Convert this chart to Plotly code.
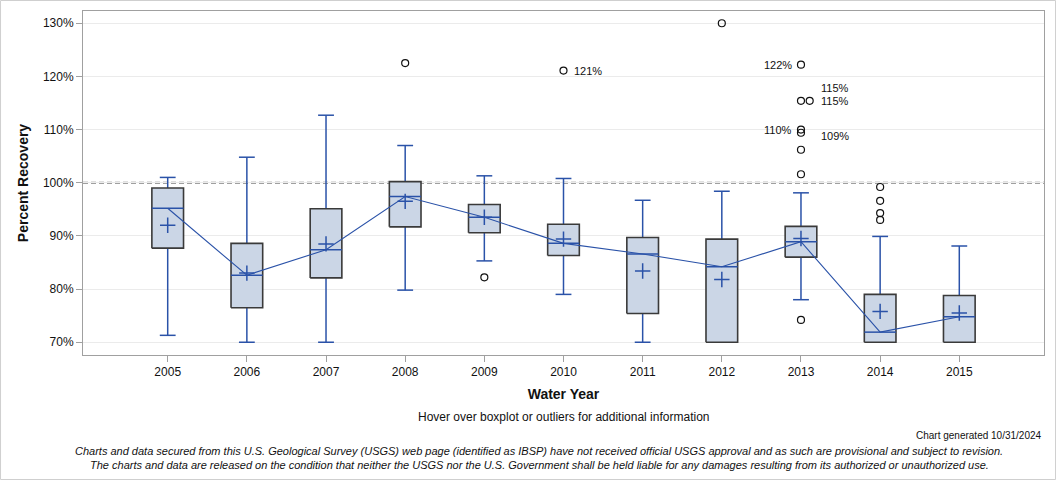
import plotly.graph_objects as go

years = [2005, 2006, 2007, 2008, 2009, 2010, 2011, 2012, 2013, 2014, 2015]
q1 = [87.7, 76.5, 82.1, 91.7, 90.6, 86.3, 75.4, 70.0, 86.0, 70.0, 70.0]
medians = [95.2, 82.6, 87.4, 97.4, 93.5, 88.6, 86.6, 84.2, 88.9, 71.9, 74.8]
q3 = [99.0, 88.6, 95.1, 100.2, 95.9, 92.2, 89.7, 89.4, 91.8, 79.0, 78.8]
whisker_low = [71.3, 70.0, 70.0, 79.8, 85.3, 79.0, 70.0, 70.0, 78.0, 70.0, 70.0]
whisker_high = [101.0, 104.8, 112.7, 107.0, 101.3, 100.8, 96.7, 98.4, 98.1, 89.9, 88.1]
means = [92.0, 83.0, 88.5, 96.5, 93.5, 89.4, 83.4, 81.8, 89.5, 75.8, 75.5]

outlier_years = [2008, 2009, 2010, 2012, 2013, 2013, 2013, 2013, 2013, 2013, 2013, 2013, 2014, 2014, 2014, 2014]
outlier_vals = [122.5, 82.2, 121.1, 130.0, 74.2, 101.6, 106.2, 109.4, 110.0, 115.4, 115.4, 122.2, 93.0, 94.3, 96.6, 99.2]

label_years = [2010, 2013, 2013, 2013, 2013, 2013]
label_vals = [121.1, 122.2, 110.0, 115.4, 115.4, 109.4]
label_texts = ["121%", "122%", "110%", "115%", "115%", "109%"]

ytick_vals = [70, 80, 90, 100, 110, 120, 130]
ytick_text = ["70%", "80%", "90%", "100%", "110%", "120%", "130%"]

BOX_FILL = "#cbd6e6"
BOX_LINE = "#3a3a3a"
BLUE = "#2a52a8"
FONT = "Liberation Sans, Arial, sans-serif"

idx = list(range(len(years)))
hw = 0.2   # half box width
cw = 0.1   # half cap width

fig = go.Figure()

# reference line at 100%
fig.add_shape(type="line", xref="paper", x0=0, x1=1, yref="y", y0=100, y1=100,
              line=dict(color="#808080", width=2, dash="5px,3px"), layer="between")

# outer image border
fig.add_shape(type="rect", xref="paper", yref="paper",
              x0=-0.0858, x1=1.012, y0=-0.362, y1=1.0305,
              line=dict(color="#cfcfcf", width=1), fillcolor="rgba(0,0,0,0)", layer="above")

# whiskers
for i in idx:
    xs = [i, i, None, i, i, None, i - cw, i + cw, None, i - cw, i + cw]
    ys = [q3[i], whisker_high[i], None, q1[i], whisker_low[i], None,
          whisker_high[i], whisker_high[i], None, whisker_low[i], whisker_low[i]]
    fig.add_trace(go.Scatter(x=xs, y=ys, mode="lines", line=dict(color=BLUE, width=1.5),
                             hoverinfo="skip", showlegend=False))

# boxes
for i in idx:
    fig.add_trace(go.Scatter(
        x=[i - hw, i + hw, i + hw, i - hw, i - hw],
        y=[q1[i], q1[i], q3[i], q3[i], q1[i]],
        mode="lines", fill="toself", fillcolor=BOX_FILL,
        line=dict(color=BOX_LINE, width=1.6), showlegend=False,
        hovertemplate=f"Water Year {years[i]}<br>Q1: {q1[i]}%<br>Median: {medians[i]}%<br>Q3: {q3[i]}%<extra></extra>"))
    fig.add_trace(go.Scatter(x=[i - hw, i + hw], y=[medians[i], medians[i]], mode="lines",
                             line=dict(color=BLUE, width=1.5), hoverinfo="skip", showlegend=False))

# median connecting line
fig.add_trace(go.Scatter(x=idx, y=medians, mode="lines", line=dict(color=BLUE, width=1.1),
                         hoverinfo="skip", showlegend=False))

# means
fig.add_trace(go.Scatter(x=idx, y=means, mode="markers",
                         marker=dict(symbol="cross-thin", size=11, line=dict(color=BLUE, width=1.5)),
                         hovertemplate="Mean: %{y}%<extra></extra>", showlegend=False))

# outliers (duplicates nudged sideways)
ox = []
seen = {}
for yr, v in zip(outlier_years, outlier_vals):
    k = (yr, v)
    n = seen.get(k, 0)
    seen[k] = n + 1
    ox.append(years.index(yr) + 0.11 * n)
fig.add_trace(go.Scatter(x=ox, y=outlier_vals, mode="markers",
                         marker=dict(symbol="circle-open", size=7, color="#111111", line=dict(width=1.2)),
                         hovertemplate="%{y}%<extra></extra>", showlegend=False))

# outlier labels
label_cfg = {
    0: dict(xanchor="left", xshift=8, yshift=0),
    1: dict(xanchor="right", xshift=-7, yshift=0),
    2: dict(xanchor="right", xshift=-7, yshift=0),
    3: dict(xanchor="left", xshift=18, yshift=13),
    4: dict(xanchor="left", xshift=18, yshift=0),
    5: dict(xanchor="left", xshift=18, yshift=-3),
}
for j, (yr, v, t) in enumerate(zip(label_years, label_vals, label_texts)):
    c = label_cfg[j]
    fig.add_annotation(x=years.index(yr), y=v, text=t, showarrow=False,
                       xanchor=c["xanchor"], yanchor="middle", xshift=c["xshift"], yshift=c["yshift"],
                       font=dict(family=FONT, size=11, color="#111111"))

fig.update_layout(
    width=1056, height=480,
    margin=dict(l=83, r=12, t=11, b=125),
    paper_bgcolor="white", plot_bgcolor="white",
    font=dict(family=FONT, size=12, color="#111111"),
    showlegend=False,
    xaxis=dict(range=[-1.07, 11.07], tickmode="array", tickvals=idx, ticktext=[str(y) for y in years],
               showgrid=False, zeroline=False, showline=True, linecolor="#a0a0a0", mirror=True,
               ticks="outside", ticklen=6, tickcolor="#a0a0a0",
               title=dict(text="<b>Water Year</b>", font=dict(size=14), standoff=10)),
    yaxis=dict(range=[67.6, 132.3], tickmode="array", tickvals=ytick_vals, ticktext=ytick_text,
               showgrid=True, gridcolor="#ebebeb", gridwidth=1, zeroline=False,
               showline=True, linecolor="#a0a0a0", mirror=True,
               ticks="outside", ticklen=6, tickcolor="#a0a0a0",
               title=dict(text="<b>Percent Recovery</b>", font=dict(size=14), standoff=10)),
)

fig.add_annotation(xref="paper", yref="paper", x=0.5, y=-0.18, xanchor="center", yanchor="middle",
                   text="Hover over boxplot or outliers for additional information", showarrow=False,
                   font=dict(size=12))
fig.add_annotation(xref="paper", x=1.0, yref="paper", y=-0.233, xanchor="right", yanchor="middle",
                   text="Chart generated 10/31/2024", showarrow=False, font=dict(size=10))
fig.add_annotation(xref="paper", x=0.475, yref="paper", y=-0.28, xanchor="center", yanchor="middle",
                   text="<i>Charts and data secured from this U.S. Geological Survey (USGS) web page (identified as IBSP) have not received official USGS approval and as such are provisional and subject to revision.</i>",
                   showarrow=False, font=dict(size=11))
fig.add_annotation(xref="paper", x=0.475, yref="paper", y=-0.321, xanchor="center", yanchor="middle",
                   text="<i>The charts and data are released on the condition that neither the USGS nor the U.S. Government shall be held liable for any damages resulting from its authorized or unauthorized use.</i>",
                   showarrow=False, font=dict(size=11))

fig.write_html("out.html")
